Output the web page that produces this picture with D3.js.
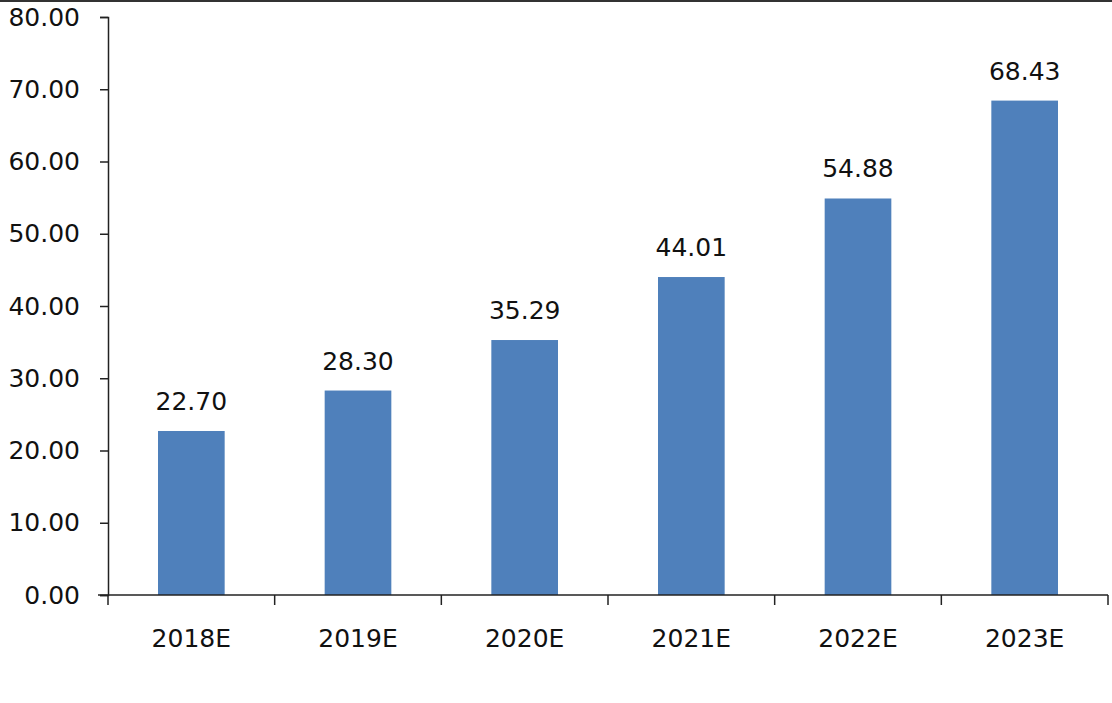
<!DOCTYPE html>
<html><head><meta charset="utf-8">
<script src="https://cdn.jsdelivr.net/npm/d3@7"></script>
<style>body{margin:0;background:#fff}svg{display:block}</style>
</head><body>
<svg id="c" width="1112" height="703"></svg>
<script>
const categories = ["2018E","2019E","2020E","2021E","2022E","2023E"];
const values = [22.70, 28.30, 35.29, 44.01, 54.88, 68.43];
const yTicks = [0,10,20,30,40,50,60,70,80];

const svg = d3.select("#c");
const W = 1112, H = 703;
const m = {left:108, right:4, top:17, bottom:108};
const font = "'DejaVu Sans', sans-serif";

svg.append("rect").attr("x",0).attr("y",0).attr("width",W).attr("height",2).attr("fill","#333");

const x = d3.scaleBand().domain(categories).range([m.left, W-m.right]).paddingInner(0.6).paddingOuter(0.3);
const y = d3.scaleLinear().domain([0,80]).range([H-m.bottom, m.top]);

svg.selectAll("rect.bar").data(values).join("rect").attr("class","bar")
  .attr("x",(d,i)=>x(categories[i])).attr("width",x.bandwidth())
  .attr("y",d=>y(d)).attr("height",d=>y(0)-y(d))
  .attr("fill","#4f80bb");

svg.selectAll("text.val").data(values).join("text").attr("class","val")
  .attr("x",(d,i)=>x(categories[i])+x.bandwidth()/2).attr("y",d=>y(d)-21)
  .attr("text-anchor","middle").attr("font-family",font).attr("font-size",25).attr("fill","#111")
  .text(d=>d.toFixed(2));

const ya = svg.append("g").attr("transform",`translate(${m.left},0)`)
  .call(d3.axisLeft(y).tickValues(yTicks).tickFormat(d=>d.toFixed(2)).tickSize(8).tickPadding(20));
ya.selectAll("text").attr("font-family",font).attr("font-size",25).attr("fill","#111");
ya.selectAll("path,line").attr("stroke","#222").attr("stroke-width",1.5);

// x axis with ticks at band boundaries
const xa = svg.append("g").attr("transform",`translate(0,${y(0)})`);
xa.append("line").attr("x1",m.left-10).attr("x2",W-m.right).attr("stroke","#222").attr("stroke-width",1.5);
const bounds = categories.map(c=>x(c)-x.step()*0.3).concat([W-m.right]);
xa.selectAll("line.t").data(bounds).join("line").attr("class","t")
  .attr("x1",d=>d).attr("x2",d=>d).attr("y1",0).attr("y2",10).attr("stroke","#222").attr("stroke-width",1.5);
xa.selectAll("text").data(categories).join("text")
  .attr("x",d=>x(d)+x.bandwidth()/2).attr("y",52)
  .attr("text-anchor","middle").attr("font-family",font).attr("font-size",25).attr("fill","#111")
  .text(d=>d);
</script>
</body></html>
